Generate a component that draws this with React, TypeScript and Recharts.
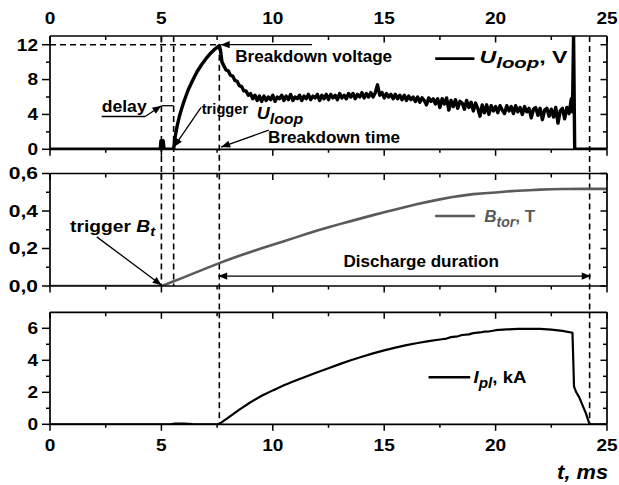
import React from 'react';
import { LineChart, Line, XAxis, YAxis, ReferenceLine, ReferenceDot } from 'recharts';

const FONT = '"Liberation Sans", Arial, Helvetica, sans-serif';

// ---------------- data ----------------
const timeTicks = [0, 2.5, 5, 7.5, 10, 12.5, 15, 17.5, 20, 22.5, 25];
const uLoopTicks = [0, 2, 4, 6, 8, 10, 12];
const bTorTicks = [0, 0.1, 0.2, 0.3, 0.4, 0.5, 0.6];
const iPlTicks = [0, 1, 2, 3, 4, 5, 6];

const tTriggerBt = 5.0;
const tTriggerU = 5.55;
const tBreakdown = 7.6;
const tEnd = 24.22;
const uBreakdown = 12;

const uLoopData: [number, number][] = [
  [0, 0], [4.95, 0], [4.98, 1.0], [5.08, 1.0], [5.12, 0], [5.55, 0], [5.6, 1.2], [5.7, 2.6], [5.8, 3.7],
  [5.9, 4.6], [6.0, 5.4], [6.2, 6.8], [6.4, 7.9], [6.6, 8.9], [6.8, 9.7], [7.0, 10.4], [7.2, 11.0],
  [7.4, 11.5], [7.6, 11.9], [7.65, 11.4], [7.72, 10.0], [7.8, 9.6], [7.9, 9.1], [8.0, 9.0], [8.1, 8.5], [8.2, 8.4],
  [8.3, 7.9], [8.4, 7.8], [8.5, 7.3], [8.6, 7.2], [8.7, 6.7], [8.8, 6.7], [8.9, 6.2], [9.0, 6.4], [9.1, 5.8],
  [9.2, 6.2], [9.3, 5.6], [9.4, 6.1],
  [9.5, 5.5], [9.6, 6.1], [9.7, 5.6], [9.8, 6.0], [9.9, 5.7], [10.0, 6.2], [10.1, 5.5], [10.2, 6.0], [10.3, 5.8], [10.4, 6.2],
  [10.5, 5.6], [10.6, 6.1], [10.7, 5.7], [10.8, 6.3], [10.9, 5.6], [11.0, 6.0], [11.1, 5.8], [11.2, 6.2], [11.3, 5.6], [11.4, 6.1],
  [11.5, 5.8], [11.6, 6.3], [11.7, 5.7], [11.8, 6.1], [11.9, 5.9], [12.0, 6.3], [12.1, 5.6], [12.2, 6.2], [12.3, 5.8], [12.4, 6.3],
  [12.5, 5.7], [12.6, 6.3], [12.7, 5.9], [12.8, 6.2], [12.9, 5.7], [13.0, 6.4], [13.1, 5.9], [13.2, 6.2], [13.3, 5.8], [13.4, 6.4],
  [13.5, 6.0], [13.6, 6.4], [13.7, 5.8], [13.8, 6.3], [13.9, 6.0], [14.0, 6.5], [14.1, 5.9], [14.2, 6.4], [14.3, 6.0], [14.4, 6.5],
  [14.5, 6.0], [14.6, 6.5], [14.7, 7.4], [14.8, 6.2], [14.9, 6.5], [15.0, 5.9], [15.1, 6.4], [15.2, 6.0], [15.3, 6.3], [15.4, 5.8],
  [15.5, 6.3], [15.6, 5.8], [15.7, 6.2], [15.8, 5.7], [15.9, 6.2], [16.0, 5.6], [16.1, 6.1], [16.2, 5.7], [16.3, 6.0], [16.4, 5.5],
  [16.5, 6.0], [16.6, 5.4], [16.7, 5.9], [16.8, 5.6], [16.9, 5.1], [17.0, 5.9], [17.1, 5.5], [17.2, 5.8], [17.3, 5.2], [17.4, 5.8],
  [17.5, 4.8], [17.6, 5.8], [17.7, 5.2], [17.8, 5.9], [17.9, 4.5], [18.0, 5.6], [18.1, 4.9], [18.2, 5.7], [18.3, 4.7], [18.4, 5.5],
  [18.5, 5.3], [18.6, 4.6], [18.7, 5.6], [18.8, 4.8], [18.9, 5.4], [19.0, 4.4], [19.1, 5.3], [19.2, 4.7], [19.3, 3.8], [19.4, 5.1],
  [19.5, 4.2], [19.6, 5.1], [19.7, 4.0], [19.8, 5.0], [19.9, 4.4], [20.0, 4.9], [20.1, 4.2], [20.2, 5.0], [20.3, 4.5], [20.4, 4.1],
  [20.5, 5.0], [20.6, 4.4], [20.7, 4.9], [20.8, 4.1], [20.9, 5.0], [21.0, 4.3], [21.1, 4.8], [21.2, 4.0], [21.3, 4.9], [21.4, 4.3],
  [21.5, 4.7], [21.6, 3.6], [21.7, 4.6], [21.8, 4.8], [21.9, 3.9], [22.0, 4.7], [22.1, 3.4], [22.2, 4.5], [22.3, 4.7], [22.4, 3.8],
  [22.5, 4.6], [22.6, 3.7], [22.7, 4.8], [22.8, 3.0], [22.9, 4.4], [23.0, 4.7], [23.1, 3.5], [23.2, 4.8], [23.3, 4.1], [23.4, 5.8],
  [23.45, 4.3], [23.5, 13], [23.55, 0], [25, 0],
];

const bTorData: [number, number][] = [
  [0, 0], [5.02, 0], [5.5, 0.023], [6, 0.046], [6.5, 0.07], [7, 0.094], [7.6, 0.122], [8, 0.14], [8.5, 0.161],
  [9, 0.181], [9.5, 0.201], [10, 0.22], [10.5, 0.239], [11, 0.258], [11.5, 0.277], [12, 0.296], [12.5, 0.313],
  [13, 0.33], [13.5, 0.346], [14, 0.362], [14.5, 0.378], [15, 0.393], [15.5, 0.408], [16, 0.423], [16.5, 0.437],
  [17, 0.45], [17.5, 0.462], [18, 0.473], [18.5, 0.482], [19, 0.49], [19.5, 0.495], [20, 0.499], [20.5, 0.504],
  [21, 0.508], [21.5, 0.511], [22, 0.514], [22.5, 0.516], [23, 0.517], [24, 0.518], [25, 0.518],
];

const iPlData: [number, number][] = [
  [0, 0], [5.4, 0], [5.6, 0.05], [6.0, 0.04], [6.4, 0.01], [7.6, 0], [7.7, 0.12], [8.0, 0.42], [8.5, 0.92],
  [9.0, 1.38], [9.5, 1.78], [10, 2.12], [10.5, 2.44], [11, 2.72], [11.5, 2.99], [12, 3.25], [12.5, 3.5],
  [13, 3.76], [13.5, 4.0], [14, 4.22], [14.5, 4.43], [15, 4.62], [15.5, 4.79], [16, 4.95], [16.5, 5.08],
  [17, 5.2], [17.5, 5.3], [17.8, 5.36], [18, 5.45], [18.3, 5.5], [18.5, 5.58], [18.8, 5.62], [19, 5.7],
  [19.3, 5.74], [19.5, 5.79], [19.7, 5.8], [20, 5.88], [20.5, 5.93], [21, 5.96], [21.5, 5.97], [22, 5.96],
  [22.5, 5.92], [23, 5.84], [23.45, 5.72], [23.52, 2.35], [23.62, 2.0], [23.75, 1.7], [23.9, 1.2],
  [24.05, 0.7], [24.22, 0], [25, 0],
];

// ---------------- layout ----------------
const W = 619;
const H = 485;
const PLOT_L = 50;
const PLOT_R = 607;
const P1 = { top: 36, bottom: 149.3 };
const P2 = { top: 173.5, bottom: 286 };
const P3 = { top: 312.3, bottom: 424.3 };
const GAP12 = P2.top - P1.bottom;
const GAP23 = P3.top - P2.bottom;
const AXIS_BOX = 1; // axes need a non-zero box to be drawn

const margins = (p: { top: number; bottom: number }) => ({
  top: p.top - AXIS_BOX,
  bottom: H - p.bottom - AXIS_BOX,
  left: PLOT_L - AXIS_BOX,
  right: W - PLOT_R - AXIS_BOX,
});

const AX = { stroke: '#000', strokeWidth: 1.7 };
const textBase = { fontFamily: FONT, fontWeight: 700, fill: '#000' } as const;

const labelLen = (s: string) => s.split('').reduce((a, c) => a + (c === ',' ? 8 : 10.6), 0);

function TickLabel({ x, y, s, anchor }: { x: number; y: number; s: string; anchor: 'start' | 'middle' | 'end' }) {
  return (
    <text x={x} y={y} textAnchor={anchor} fontSize={16.5} {...textBase} textLength={labelLen(s)} lengthAdjust="spacingAndGlyphs">{s}</text>
  );
}

type Side = 'top' | 'bottom' | 'left' | 'right';
function makeTick(side: Side, isMajor: (v: number) => boolean, label?: (v: number) => string) {
  return (props: any) => {
    const { x, y, payload } = props;
    const v = payload.value as number;
    const major = isMajor(v);
    let line: React.ReactNode = null;
    let text: React.ReactNode = null;
    if (side === 'bottom') {
      const len = major ? 6.5 : 3.5;
      line = <line x1={x} x2={x} y1={y} y2={y + len} stroke="#000" strokeWidth={1.5} />;
      if (label && major) text = <TickLabel x={x} y={y + 27} s={label(v)} anchor="middle" />;
    } else if (side === 'top') {
      const len = major ? 6.5 : 4;
      line = <line x1={x} x2={x} y1={y} y2={y + len} stroke="#000" strokeWidth={1.5} />;
      if (label && major) text = <TickLabel x={x} y={y - 12} s={label(v)} anchor="middle" />;
    } else if (side === 'left') {
      const len = major ? 8 : 4;
      line = <line x1={x - len} x2={x} y1={y} y2={y} stroke="#000" strokeWidth={1.5} />;
      if (label && major) text = <TickLabel x={x - 12} y={y + 5.8} s={label(v)} anchor="end" />;
    } else {
      const len = major ? 6.5 : 4;
      line = <line x1={x - len} x2={x} y1={y} y2={y} stroke="#000" strokeWidth={1.5} />;
    }
    return <g>{line}{text}</g>;
  };
}

const xMajor = (v: number) => Math.abs(v % 5) < 1e-9;
const fmtInt = (v: number) => String(v);
const fmtComma = (v: number) => v.toFixed(1).replace('.', ',');

function axes(yDomain: [number, number], yTicks: number[], yMajor: (v: number) => boolean, yFmt: (v: number) => string, topLabels: boolean, bottomLabels: boolean) {
  return [
    <XAxis key="xb" xAxisId="b" type="number" dataKey="t" domain={[0, 25]} ticks={timeTicks} interval={0} height={AXIS_BOX}
      tickSize={0} tickMargin={0} tickLine={false} axisLine={AX} allowDataOverflow
      tick={makeTick('bottom', xMajor, bottomLabels ? fmtInt : undefined)} />,
    <XAxis key="xt" xAxisId="t" orientation="top" type="number" dataKey="t" domain={[0, 25]} ticks={timeTicks} interval={0} height={AXIS_BOX}
      tickSize={0} tickMargin={0} tickLine={false} axisLine={AX} allowDataOverflow
      tick={makeTick('top', xMajor, topLabels ? fmtInt : undefined)} />,
    <YAxis key="yl" yAxisId="l" type="number" domain={yDomain} ticks={yTicks} interval={0} width={AXIS_BOX}
      tickSize={0} tickMargin={0} tickLine={false} axisLine={AX} allowDataOverflow
      tick={makeTick('left', yMajor, yFmt)} />,
    <YAxis key="yr" yAxisId="r" orientation="right" type="number" domain={yDomain} ticks={yTicks} interval={0} width={AXIS_BOX}
      tickSize={0} tickMargin={0} tickLine={false} axisLine={AX} allowDataOverflow
      tick={makeTick('right', yMajor)} />,
  ];
}

// dashed vertical event line, optionally extended into the gap below the panel
const dashedV = (extBottom: number) => (p: any) => {
  const top = Math.min(p.y1, p.y2);
  const bot = Math.max(p.y1, p.y2) + extBottom;
  return <line x1={p.x1} x2={p.x1} y1={top} y2={bot} stroke="#000" strokeWidth={1.6} strokeDasharray="6 4" />;
};

function vLine(key: string, x: number, extBottom: number) {
  return <ReferenceLine key={key} xAxisId="b" yAxisId="l" x={x} ifOverflow="visible" shape={dashedV(extBottom)} />;
}

function headPts(x: number, y: number, a: number, L = 9, Wd = 3.6) {
  const bx = x - L * Math.cos(a);
  const by = y - L * Math.sin(a);
  return `${x},${y} ${bx + Wd * Math.sin(a)},${by - Wd * Math.cos(a)} ${bx - Wd * Math.sin(a)},${by + Wd * Math.cos(a)}`;
}

const arrowShape = (heads: 'end' | 'both' | 'none', sw = 1.3, color = '#000') => (p: any) => {
  const { x1, y1, x2, y2 } = p;
  const a = Math.atan2(y2 - y1, x2 - x1);
  return (
    <g>
      <line x1={x1} y1={y1} x2={x2} y2={y2} stroke={color} strokeWidth={sw} />
      {heads !== 'none' && <polygon points={headPts(x2, y2, a)} fill={color} />}
      {heads === 'both' && <polygon points={headPts(x1, y1, a + Math.PI)} fill={color} />}
    </g>
  );
};

function seg(key: string, a: [number, number], b: [number, number], heads: 'end' | 'both' | 'none', sw = 1.3, color = '#000') {
  return (
    <ReferenceLine key={key} xAxisId="b" yAxisId="l" ifOverflow="visible"
      segment={[{ x: a[0], y: a[1] }, { x: b[0], y: b[1] }]} shape={arrowShape(heads, sw, color)} />
  );
}

function note(key: string, x: number, y: number, node: React.ReactNode, o: { size?: number; anchor?: 'start' | 'end' | 'middle'; fill?: string; len?: number; italic?: boolean } = {}) {
  return (
    <ReferenceDot key={key} xAxisId="b" yAxisId="l" x={x} y={y} r={0} ifOverflow="visible"
      shape={(p: any) => (
        <text x={p.cx} y={p.cy} fontFamily={FONT} fontWeight={700} fontSize={o.size ?? 17} fill={o.fill ?? '#000'}
          textAnchor={o.anchor ?? 'start'} fontStyle={o.italic ? 'italic' : 'normal'}
          textLength={o.len} lengthAdjust={o.len ? 'spacingAndGlyphs' : undefined}>{node}</text>
      )} />
  );
}

const toRows = (d: [number, number][]) => d.map(([t, v]) => ({ t, v }));

function TopPanel() {
  return (
    <LineChart width={W} height={H} data={toRows(uLoopData)} margin={margins(P1)}>
      {axes([0, 13], uLoopTicks, (v) => v % 4 === 0, fmtInt, true, false)}
      <ReferenceLine xAxisId="b" yAxisId="l" ifOverflow="visible" segment={[{ x: 0, y: uBreakdown }, { x: tBreakdown, y: uBreakdown }]}
        stroke="#000" strokeWidth={1.6} strokeDasharray="6 4" />
      {vLine('v1', tTriggerBt, GAP12)}
      {vLine('v2', tTriggerU, GAP12)}
      <ReferenceLine xAxisId="b" yAxisId="l" ifOverflow="visible" segment={[{ x: tBreakdown, y: uBreakdown }, { x: tBreakdown, y: 0 }]}
        shape={dashedV(GAP12)} />
      {vLine('v4', tEnd, GAP12)}
      <Line xAxisId="b" yAxisId="l" type="linear" dataKey="v" stroke="#000" strokeWidth={3.4} dot={false} activeDot={false}
        isAnimationActive={false} strokeLinejoin="round" />
      {seg('bv', [11.76, 12], [7.66, 12], 'end', 1.3)}
      {note('bvt', 8.31, 9.97, 'Breakdown voltage', { len: 157 })}
      {seg('ul', [17.29, 10.4], [19.05, 10.4], 'none', 2.6)}
      {note('ult', 19.28, 9.9, <>
        <tspan fontStyle="italic">U</tspan>
        <tspan fontStyle="italic" fontSize={15} dy={5}>loop</tspan>
        <tspan dy={-5}>, V</tspan>
      </>, { len: 88 })}
      {seg('dl', [2.32, 3.77], [4.27, 3.77], 'none', 1.5)}
      {seg('da', [4.27, 3.77], [5.0, 5.0], 'end', 1.3)}
      {seg('dd', [5.02, 5.0], [5.55, 5.0], 'none', 1.3)}
      {note('dt', 2.32, 4.33, 'delay', { len: 45, size: 17 })}
      {seg('ta', [6.78, 4.8], [5.56, 0.25], 'end', 1.3)}
      {note('tt', 6.81, 4.0, 'trigger', { len: 46.5, size: 15 })}
      {note('tu', 9.28, 3.45, <>
        <tspan>U</tspan>
        <tspan fontSize={15} dy={5}>loop</tspan>
      </>, { italic: true, len: 46.5 })}
      {seg('bta', [9.82, 2.2], [7.68, 0.25], 'end', 1.3)}
      {note('btt', 9.79, 0.76, 'Breakdown time', { len: 132 })}
    </LineChart>
  );
}

function MidPanel() {
  return (
    <LineChart width={W} height={H} data={toRows(bTorData)} margin={margins(P2)}>
      {axes([0, 0.6], bTorTicks, (v) => Math.round(v * 10) % 2 === 0, fmtComma, false, false)}
      {vLine('v1', tTriggerBt, 0)}
      {vLine('v2', tTriggerU, 0)}
      {vLine('v3', tBreakdown, GAP23)}
      {vLine('v4', tEnd, GAP23)}
      <Line xAxisId="b" yAxisId="l" type="linear" dataKey="v" stroke="#5a5a5a" strokeWidth={2.6} dot={false} activeDot={false}
        isAnimationActive={false} />
      {seg('tb', [2.1, 0.262], [5.01, 0.004], 'end', 1.3)}
      {note('tbt', 0.9, 0.29, <>
        <tspan>trigger </tspan>
        <tspan fontStyle="italic">B</tspan>
        <tspan fontStyle="italic" fontSize={13} dy={4}>t</tspan>
      </>, { len: 85 })}
      {seg('bl', [17.29, 0.373], [19.08, 0.373], 'none', 2.6, '#5a5a5a')}
      {note('blt', 19.49, 0.343, <>
        <tspan fontStyle="italic">B</tspan>
        <tspan fontStyle="italic" fontSize={14} dy={5}>tor</tspan>
        <tspan dy={-5}>, T</tspan>
      </>, { len: 51, fill: '#5a5a5a' })}
      {seg('dd', [7.55, 0.053], [24.27, 0.053], 'both', 1.3)}
      {note('ddt', 13.17, 0.103, 'Discharge duration', { len: 155.5 })}
    </LineChart>
  );
}

function BotPanel() {
  return (
    <LineChart width={W} height={H} data={toRows(iPlData)} margin={margins(P3)}>
      {axes([0, 7], iPlTicks, (v) => v % 2 === 0, fmtInt, false, true)}
      {vLine('v3', tBreakdown, 0)}
      {vLine('v4', tEnd, 0)}
      <Line xAxisId="b" yAxisId="l" type="linear" dataKey="v" stroke="#000" strokeWidth={2.2} dot={false} activeDot={false}
        isAnimationActive={false} strokeLinejoin="round" />
      {seg('il', [16.99, 2.94], [18.86, 2.94], 'none', 2.6)}
      {note('ilt', 19.01, 2.56, <>
        <tspan fontStyle="italic">I</tspan>
        <tspan fontStyle="italic" fontSize={14} dy={5}>pl</tspan>
        <tspan dy={-5}>, kA</tspan>
      </>, { len: 53 })}
      {note('tms', 25.05, -3.42, 't, ms', { italic: true, size: 21, anchor: 'end', len: 51 })}
    </LineChart>
  );
}

export default function App() {
  const layer: React.CSSProperties = { position: 'absolute', left: 0, top: 0 };
  return (
    <div style={{ position: 'absolute', left: 0, top: 0, width: W, height: H, background: '#fff' }}>
      <div style={layer}><TopPanel /></div>
      <div style={layer}><MidPanel /></div>
      <div style={layer}><BotPanel /></div>
    </div>
  );
}
